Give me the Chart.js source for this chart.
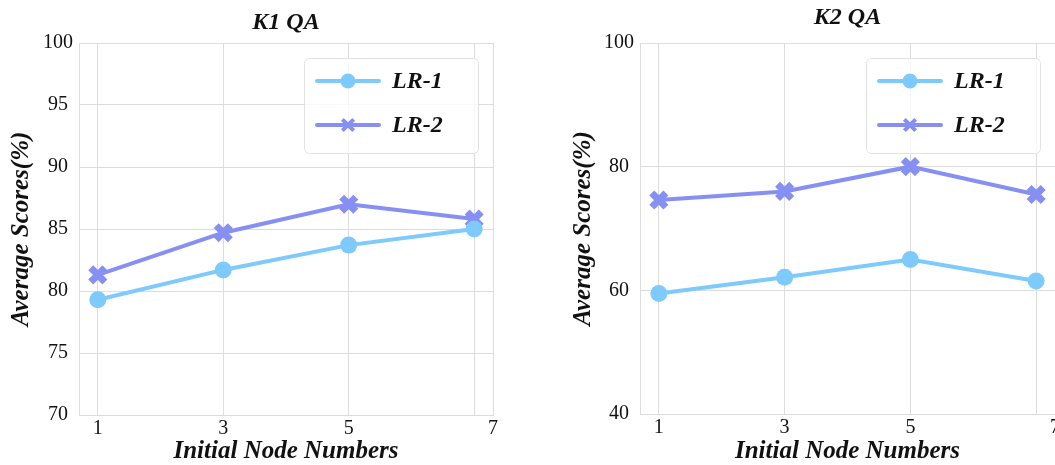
<!DOCTYPE html>
<html>
<head>
<meta charset="utf-8">
<script src="https://cdn.jsdelivr.net/npm/chart.js@4/dist/chart.umd.min.js"></script>
<style>
  html, body { margin: 0; padding: 0; background: #ffffff; }
  body { width: 1055px; height: 465px; position: relative; overflow: hidden; }
  .panel { position: absolute; top: 0; height: 465px; }
  #p1 { left: 0; width: 530px; }
  #p2 { left: 562px; width: 493px; }
</style>
</head>
<body>
<div class="panel" id="p1"><canvas id="c1"></canvas></div>
<div class="panel" id="p2"><canvas id="c2"></canvas></div>
<script>
// ---- data ----
const categories = [1, 3, 5, 7];
const xTickLabels = ['1', '3', '5', '7'];
const seriesNames = ['LR-1', 'LR-2'];
const k1LR1 = [79.3, 81.7, 83.7, 85.0];
const k1LR2 = [81.3, 84.7, 87.0, 85.8];
const k2LR1 = [59.5, 62.1, 65.0, 61.5];
const k2LR2 = [74.6, 76.0, 80.0, 75.5];
const k1YTicks = [70, 75, 80, 85, 90, 95, 100];
const k2YTicks = [40, 60, 80, 100];
const titles = ['K1 QA', 'K2 QA'];
const xTitle = 'Initial Node Numbers';
const yTitle = 'Average Scores(%)';

// ---- styles ----
const C1 = '#7ecafc';
const C2 = '#8690f2';
const GRID = '#dcdcdc';
const SERIF = "'Liberation Serif', 'Times New Roman', serif";

function toPoints(vals) { return categories.map((c, i) => ({ x: c, y: vals[i] })); }

const legendBox = {
  id: 'legendBox',
  afterDatasetsDraw(chart) {
    const ctx = chart.ctx, a = chart.chartArea;
    const w = 174, h = 95;
    const x = a.right - 15 - w, y = a.top + 15;
    ctx.save();
    ctx.beginPath();
    if (ctx.roundRect) ctx.roundRect(x + 0.5, y + 0.5, w, h, 5); else ctx.rect(x + 0.5, y + 0.5, w, h);
    ctx.fillStyle = 'rgba(255,255,255,0.8)';
    ctx.fill();
    ctx.strokeStyle = '#e2e2e2';
    ctx.lineWidth = 1;
    ctx.stroke();
    chart.data.datasets.forEach((ds, i) => {
      const yy = y + 23 + i * 44;
      ctx.strokeStyle = ds.borderColor;
      ctx.lineWidth = 4;
      ctx.lineCap = 'round';
      ctx.beginPath();
      ctx.moveTo(x + 13, yy);
      ctx.lineTo(x + 75, yy);
      ctx.stroke();
      ctx.lineCap = 'butt';
      ctx.fillStyle = ds.pointBackgroundColor;
      ctx.strokeStyle = ds.pointBorderColor;
      Chart.helpers.drawPoint(ctx, {
        pointStyle: ds.pointStyle,
        radius: ds.pointStyle === 'circle' ? 7.5 : 8,
        borderWidth: ds.pointStyle === 'circle' ? 0 : 5.5,
        rotation: 0
      }, x + 44, yy);
      ctx.fillStyle = '#111111';
      ctx.font = "italic bold 24px " + SERIF;
      ctx.textAlign = 'left';
      ctx.textBaseline = 'middle';
      ctx.fillText(ds.label, x + 88, yy + 1);
    });
    ctx.restore();
  }
};

function makeChart(id, title, lr1, lr2, yTicks, opts) {
  const yMin = yTicks[0], yMax = yTicks[yTicks.length - 1];
  const tSize = 24, tLH = tSize * 1.2;
  return new Chart(document.getElementById(id), {
    type: 'line',
    data: {
      datasets: [
        {
          label: seriesNames[0], data: toPoints(lr1),
          borderColor: C1, backgroundColor: C1, borderWidth: 4,
          pointStyle: 'circle', pointRadius: 8.5, pointBackgroundColor: C1,
          pointBorderColor: C1, pointBorderWidth: 0, tension: 0
        },
        {
          label: seriesNames[1], data: toPoints(lr2),
          borderColor: C2, backgroundColor: C2, borderWidth: 4,
          pointStyle: 'crossRot', pointRadius: 10, pointBackgroundColor: C2,
          pointBorderColor: C2, pointBorderWidth: 7, tension: 0
        }
      ]
    },
    options: {
      responsive: true, maintainAspectRatio: false, animation: false,
      devicePixelRatio: 1,
      layout: { autoPadding: false, padding: { left: 0, right: opts.rightPad, top: 0, bottom: 0 } },
      plugins: {
        legend: { display: false },
        tooltip: { enabled: false },
        title: {
          display: true, text: title, fullSize: false, color: '#111111',
          font: { family: SERIF, size: tSize, style: 'italic', weight: 'bold', lineHeight: 1.2 },
          padding: { top: opts.titleCenter - tLH / 2, bottom: 43 - opts.titleCenter - tLH / 2 }
        }
      },
      scales: {
        x: {
          type: 'linear', min: 0.7, max: 7.3,
          afterBuildTicks(axis) {
            axis.ticks = categories.map(v => ({ value: v })).concat([{ value: axis.max }]);
          },
          afterFit(s) { s.height = opts.xHeight; s.paddingLeft = 0; s.paddingRight = 0; },
          grid: { color: GRID, lineWidth: 1, drawTicks: false },
          border: { color: GRID, width: 1 },
          ticks: {
            autoSkip: false, maxRotation: 0, padding: 4, color: '#111111',
            font: { family: SERIF, size: 20, lineHeight: 1.0 },
            callback(v, i) {
              const n = categories.length;
              if (i < n - 1) return xTickLabels[i];
              if (i === n - 1) return '';
              return xTickLabels[n - 1];
            }
          },
          title: {
            display: true, text: xTitle, color: '#111111',
            font: { family: SERIF, size: 25, style: 'italic', weight: 'bold', lineHeight: 1.05 },
            padding: { top: 0, bottom: 0 }
          }
        },
        y: {
          min: yMin, max: yMax,
          afterBuildTicks(axis) { axis.ticks = yTicks.map(v => ({ value: v })); },
          afterFit(s) { s.width = opts.yWidth; s.paddingTop = 0; s.paddingBottom = 0; },
          grid: { color: GRID, lineWidth: 1, drawTicks: false },
          border: { color: GRID, width: 1 },
          ticks: {
            padding: 6, crossAlign: 'center', color: '#111111',
            font: { family: SERIF, size: 20 }
          },
          title: {
            display: true, text: yTitle, color: '#111111',
            font: { family: SERIF, size: 25, style: 'italic', weight: 'bold', lineHeight: 1.2 },
            padding: { top: 7, bottom: 0 }
          }
        }
      }
    },
    plugins: [legendBox]
  });
}

makeChart('c1', titles[0], k1LR1, k1LR2, k1YTicks, { rightPad: 37, titleCenter: 22.5, xHeight: 50, yWidth: 79 });
makeChart('c2', titles[1], k2LR1, k2LR2, k2YTicks, { rightPad: 0, titleCenter: 17.5, xHeight: 51, yWidth: 78 });
</script>
</body>
</html>
